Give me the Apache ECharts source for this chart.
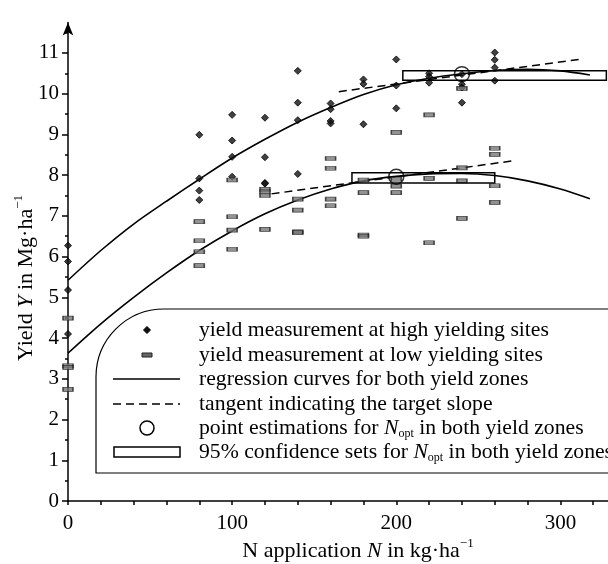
<!DOCTYPE html>
<html><head><meta charset="utf-8">
<script src="https://cdn.jsdelivr.net/npm/echarts@6/dist/echarts.min.js"></script>
<style>html,body{margin:0;padding:0;background:#fff}#c{width:608px;height:564px}</style>
</head><body><div id="c"></div>
<script>
// ---- data ----
const highN = [0,0,0,0, 80,80,80,80, 100,100,100,100, 120,120,120,120, 140,140,140,140, 160,160,160,160, 180,180,180, 200,200,200, 220,220,220, 240,240,240,240, 260,260,260,260];
const highY = [6.27,5.88,5.18,4.10, 8.99,7.92,7.62,7.39, 9.48,8.85,8.45,7.96, 9.41,8.44,7.81,7.79, 10.56,9.78,9.35,8.03, 9.76,9.62,9.33,9.27, 10.35,10.24,9.25, 10.84,10.20,9.64, 10.50,10.42,10.27, 10.48,10.23,10.15,9.78, 11.01,10.83,10.64,10.32];
const lowN = [0,0,0,0, 80,80,80,80, 100,100,100,100, 120,120,120,120, 140,140,140,140, 160,160,160,160, 180,180,180,180, 200,200,200,200, 220,220,220, 240,240,240,240, 260,260,260,260];
const lowY = [4.49,3.32,3.28,2.74, 6.86,6.39,6.12,5.78, 7.88,6.98,6.65,6.18, 7.65,7.59,7.50,6.67, 7.41,7.14,6.61,6.59, 8.41,8.17,7.41,7.25, 7.88,7.57,6.53,6.50, 9.05,7.90,7.73,7.57, 9.48,7.92,6.34, 10.13,8.18,7.86,6.94, 8.66,8.51,7.74,7.33];
const curveN = [0,20,40,60,80,100,120,140,160,180,200,220,240,260,280,300,318];
const highCurveY = [5.42,6.15,6.80,7.36,7.90,8.42,8.88,9.30,9.66,9.98,10.22,10.38,10.49,10.57,10.60,10.56,10.46];
const lowCurveY = [3.63,4.35,5.00,5.60,6.15,6.63,7.05,7.39,7.66,7.86,7.97,8.03,8.04,7.99,7.86,7.66,7.42];
const tangentHighN = [165,313], tangentHighY = [10.05,10.85];
const tangentLowN = [124,271], tangentLowY = [7.54,8.35];
const optN = [240,200], optY = [10.48,7.96];
const ciN0 = [204,173], ciN1 = [328,260], ciY0 = [10.33,7.81], ciY1 = [10.56,8.06];
const xTickLabels = [0,100,200,300];
const yTickLabels = [0,1,2,3,4,5,6,7,8,9,10,11];
const legendTexts = [
  'yield measurement at high yielding sites',
  'yield measurement at low yielding sites',
  'regression curves for both yield zones',
  'tangent indicating the target slope',
  'point estimations for {i|N}{sub|opt} in both yield zones',
  '95% confidence sets for {i|N}{sub|opt} in both yield zones'
];

const FONT = "'Liberation Serif','Times New Roman',serif";
const LFS = 21.7;
const zip = (a,b) => a.map((v,i)=>[v,b[i]]);
const xMinor = []; for (let v=0; v<=320; v+=20) xMinor.push(v);
const yMinor = []; for (let v=0.5; v<=11.5; v+=1) yMinor.push(v);

const chart = echarts.init(document.getElementById('c'), null, {renderer:'canvas'});
const legendRowY = [330,355,379,404,428,452];
const legendGraphics = [
  {type:'rect', shape:{x:96,y:309,width:540,height:164,r:[68,0,0,0]}, style:{fill:'#fff',stroke:'#000',lineWidth:1.2}, z:10},
  {type:'polygon', shape:{points:[[147,326.5],[150.5,330],[147,333.5],[143.5,330]]}, style:{fill:'#111',stroke:'#000'}, z:11},
  {type:'rect', shape:{x:142,y:353,width:10,height:4}, style:{fill:'#666',stroke:'#222',lineWidth:1}, z:11},
  {type:'line', shape:{x1:113,y1:379,x2:180,y2:379}, style:{stroke:'#000',lineWidth:1.5}, z:11},
  {type:'line', shape:{x1:113,y1:404,x2:180,y2:404}, style:{stroke:'#000',lineWidth:1.5,lineDash:[8,5]}, z:11},
  {type:'circle', shape:{cx:147,cy:428,r:7}, style:{fill:'none',stroke:'#000',lineWidth:1.5}, z:11},
  {type:'rect', shape:{x:114,y:447,width:66,height:10}, style:{fill:'none',stroke:'#000',lineWidth:1.5}, z:11}
];
legendTexts.forEach((t,i)=>{
  legendGraphics.push({type:'text', x:199, y:legendRowY[i], z:11,
    style:{text:t, fill:'#000', fontFamily:FONT, fontSize:LFS, verticalAlign:'middle', align:'left',
      rich:{ i:{fontStyle:'italic', fontFamily:FONT, fontSize:LFS},
             sub:{fontFamily:FONT, fontSize:12, padding:[12,0,0,0]} }}});
});

const option = {
  animation:false,
  backgroundColor:'#fff',
  grid:{left:68, right:0, top:22.4, bottom:63},
  xAxis:{type:'value', min:0, max:329,
    axisLine:{show:true, lineStyle:{color:'#000', width:1.5}},
    axisTick:{show:true, customValues:xMinor, length:4, lineStyle:{color:'#000', width:1.5}},
    axisLabel:{customValues:xTickLabels, color:'#000', fontFamily:FONT, fontSize:21, margin:12},
    splitLine:{show:false}},
  yAxis:[
    {type:'value', min:0, max:11.75, position:'left',
      axisLine:{show:true, symbol:['none','arrow'], symbolSize:[8,13], lineStyle:{color:'#000', width:1.5}},
      axisTick:{show:true, customValues:yTickLabels, length:6, lineStyle:{color:'#000', width:1.5}},
      axisLabel:{customValues:yTickLabels, color:'#000', fontFamily:FONT, fontSize:21, margin:9},
      splitLine:{show:false}},
    {type:'value', min:0, max:11.75, position:'left', offset:0,
      axisLine:{show:false},
      axisTick:{show:true, customValues:yMinor, length:3, lineStyle:{color:'#000', width:1.5}},
      axisLabel:{show:false}, splitLine:{show:false}}
  ],
  graphic:[
    {type:'text', x:358, y:551, style:{text:'N application {i|N} in kg·ha{sup|−1}', fill:'#000', fontFamily:FONT, fontSize:22, align:'center', verticalAlign:'middle',
      rich:{i:{fontStyle:'italic',fontFamily:FONT,fontSize:22}, sup:{fontFamily:FONT,fontSize:13,padding:[0,0,14,0]}}}},
    {type:'text', x:26, y:278, rotation:Math.PI/2, style:{text:'Yield {i|Y} in Mg·ha{sup|−1}', fill:'#000', fontFamily:FONT, fontSize:22, align:'center', verticalAlign:'middle',
      rich:{i:{fontStyle:'italic',fontFamily:FONT,fontSize:22}, sup:{fontFamily:FONT,fontSize:13,padding:[0,0,14,0]}}}},
    ...legendGraphics
  ],
  series:[
    {name:'regression high', type:'line', data:zip(curveN, highCurveY), smooth:0.3, showSymbol:false, symbol:'none', lineStyle:{color:'#000', width:1.6}, z:3},
    {name:'regression low', type:'line', data:zip(curveN, lowCurveY), smooth:0.3, showSymbol:false, symbol:'none', lineStyle:{color:'#000', width:1.6}, z:3},
    {name:'tangent high', type:'line', data:zip(tangentHighN, tangentHighY), symbol:'none', lineStyle:{color:'#000', width:1.5, type:[8,5]}, z:3},
    {name:'tangent low', type:'line', data:zip(tangentLowN, tangentLowY), symbol:'none', lineStyle:{color:'#000', width:1.5, type:[8,5]}, z:3},
    {name:'high yielding sites', type:'scatter', data:zip(highN, highY), symbol:'diamond', symbolSize:[7,7], itemStyle:{color:'#111', borderColor:'#000', borderWidth:1}, z:4},
    {name:'low yielding sites', type:'scatter', data:zip(lowN, lowY), symbol:'rect', symbolSize:[10,4], itemStyle:{color:'#777', borderColor:'#222', borderWidth:1}, z:4},
    {name:'confidence sets', type:'custom', data:ciN0.map((v,i)=>[v, ciN1[i], ciY0[i], ciY1[i]]),
      encode:{x:[0,1], y:[2,3]},
      renderItem:function(params, api){
        const p0 = api.coord([api.value(0), api.value(3)]);
        const p1 = api.coord([api.value(1), api.value(2)]);
        return {type:'rect', shape:{x:p0[0], y:p0[1], width:p1[0]-p0[0], height:p1[1]-p0[1]}, style:{fill:'none', stroke:'#000', lineWidth:1.5}};
      }, z:5},
    {name:'point estimations', type:'scatter', data:zip(optN, optY), symbol:'circle', symbolSize:15, itemStyle:{color:'rgba(0,0,0,0)', borderColor:'#000', borderWidth:1.5}, z:6}
  ]
};
chart.setOption(option);
</script></body></html>
